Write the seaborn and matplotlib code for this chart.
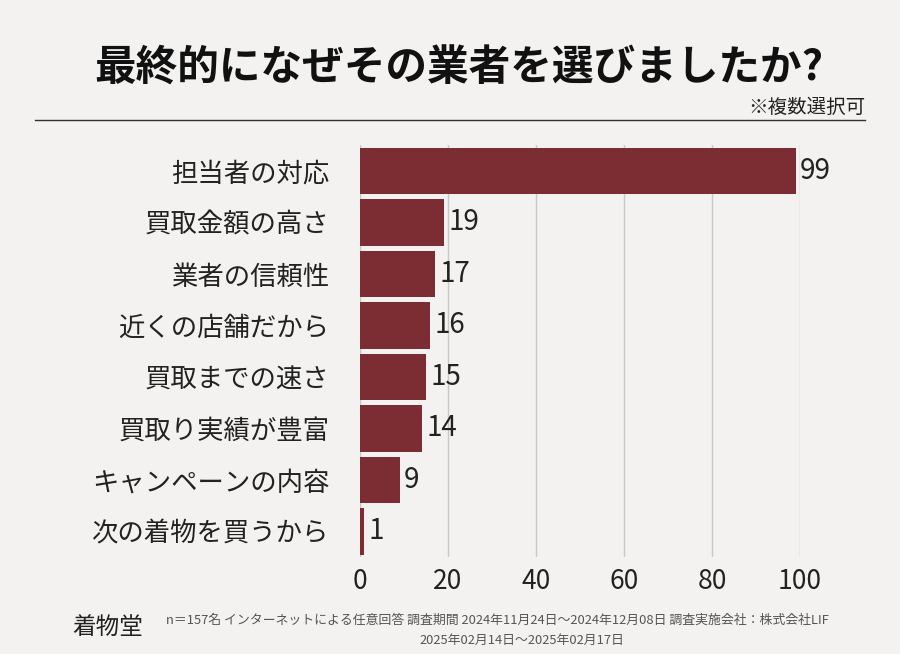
import matplotlib.pyplot as plt
import seaborn as sns
import pandas as pd

reasons = ["担当者の対応", "買取金額の高さ", "業者の信頼性", "近くの店舗だから",
           "買取までの速さ", "買取り実績が豊富", "キャンペーンの内容", "次の着物を買うから"]
counts = [99, 19, 17, 16, 15, 14, 9, 1]
xticks = [0, 20, 40, 60, 80, 100]

df = pd.DataFrame({"reason": reasons, "count": counts})

plt.rcParams["font.family"] = "Noto Sans CJK JP"
fig = plt.figure(figsize=(9, 6.54), dpi=100, facecolor="#f3f2f0")
ax = fig.add_axes([0.4, 0.148, 0.489, 0.63])
ax.set_facecolor("#f3f2f0")

sns.barplot(data=df, x="count", y="reason", color="#7b2d33", width=0.9,
            saturation=1, ax=ax, zorder=3)
ax.set_xlim(0, 100)
ax.set_xticks(xticks)
ax.grid(axis="x", color="#c8c8c8", linewidth=1, zorder=0)
sns.despine(ax=ax, left=True, bottom=True)
ax.set_xlabel("")
ax.set_ylabel("")
ax.tick_params(length=0, labelsize=19, colors="#222222")
ax.tick_params(axis="y", pad=22)
ax.tick_params(axis="x", pad=8)

for i, v in enumerate(counts):
    ax.text(v + 1, i, str(v), va="center", ha="left", fontsize=20, color="#222222")

fig.text(0.51, 0.895, "最終的になぜその業者を選びましたか?", ha="center", va="center",
         fontsize=30, fontweight="bold", color="#111111")
fig.text(0.962, 0.835, "※複数選択可", ha="right", va="center", fontsize=14, color="#222222")
fig.add_artist(plt.Line2D([0.039, 0.961], [0.817, 0.817], color="#333333", linewidth=1))

fig.text(0.12, 0.04, "着物堂", ha="center", va="center", fontsize=17, color="#222222")
fig.text(0.185, 0.052, "n＝157名 インターネットによる任意回答 調査期間 2024年11月24日～2024年12月08日 調査実施会社：株式会社LIF",
         ha="left", va="center", fontsize=9.3, color="#555555")
fig.text(0.58, 0.02, "2025年02月14日～2025年02月17日", ha="center", va="center",
         fontsize=9.3, color="#555555")

fig.savefig("out.png", dpi=100, facecolor=fig.get_facecolor())
